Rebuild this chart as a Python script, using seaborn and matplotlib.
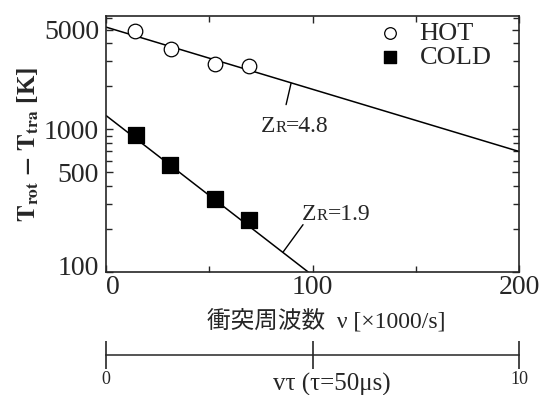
import numpy as np
import matplotlib
matplotlib.use('Agg')
import matplotlib.pyplot as plt
import matplotlib.transforms as mtrans
from matplotlib.ticker import LogLocator, NullFormatter, FixedLocator
from matplotlib.offsetbox import TextArea, HPacker, AnnotationBbox
import seaborn as sns

# measured points (collision frequency in 1000/s, temperature difference in K)
hot_nu = [14, 31.5, 53, 69]
hot_T = [4870, 3650, 2870, 2780]
cold_nu = [14.5, 31, 53, 69]
cold_T = [910, 560, 325, 233]

# fitted lines
hot_fit_nu = [0, 200]
hot_fit_T = [5200, 700]
cold_fit_nu = [0, 98]
cold_fit_T = [1250, 100]

y_ticks = [100, 500, 1000, 5000]
x_ticks = [0, 100, 200]
vt_ticks = [0, 5, 10]
vt_labels = ['0', '', '10']

sns.set_style('ticks')
plt.rcParams['font.family'] = ['Liberation Serif', 'Noto Sans CJK JP']
plt.rcParams['mathtext.fontset'] = 'stix'

fig = plt.figure(figsize=(5.42, 3.95), dpi=100)
ax = fig.add_axes([0.1956, 0.311, 0.762, 0.648])

sns.lineplot(x=hot_fit_nu, y=hot_fit_T, ax=ax, color='black', lw=1.1)
sns.lineplot(x=cold_fit_nu, y=cold_fit_T, ax=ax, color='black', lw=1.1)
sns.scatterplot(x=hot_nu, y=hot_T, ax=ax, marker='o', s=110, facecolor='white',
                edgecolor='black', linewidth=0.9, zorder=3)
sns.scatterplot(x=cold_nu, y=cold_T, ax=ax, marker='s', s=130, color='black',
                edgecolor='black', zorder=3)

ax.set_yscale('log')
ax.set_xlim(0, 200)
ax.set_ylim(100, 6200)
ax.set_xticks(x_ticks)
ax.set_xticklabels([str(v) for v in x_ticks], fontsize=20)
ax.xaxis.set_minor_locator(FixedLocator([50, 150]))
ax.set_yticks(y_ticks)
ax.set_yticklabels([str(v) for v in y_ticks], fontsize=20)
ax.yaxis.set_minor_locator(LogLocator(base=10, subs=np.arange(2, 10)))
ax.yaxis.set_minor_formatter(NullFormatter())
ax.tick_params(which='both', direction='in', top=True, right=True, width=1)
ax.tick_params(which='major', length=5)
ax.tick_params(axis='y', which='major', pad=5)
ax.tick_params(axis='x', which='major', pad=2)
ax.tick_params(which='minor', length=4)
for s in ax.spines.values():
    s.set_linewidth(1.2)
# nudge the first x label right and the lowest y label up, as in the original
ax.get_xticklabels()[0].set_horizontalalignment('left')
lab100 = ax.get_yticklabels()[0]
lab100.set_transform(lab100.get_transform() +
                     mtrans.ScaledTranslation(0, 5 / 72, fig.dpi_scale_trans))

ax.set_ylabel(r'$\mathbf{T_{rot}}$ $\mathbf{-}$ $\mathbf{T_{tra}}$ [K]', fontsize=18,
              fontweight='bold', labelpad=2)

# legend
h1 = ax.scatter([], [], marker='o', s=70, facecolor='white', edgecolor='black', linewidth=0.9)
h2 = ax.scatter([], [], marker='s', s=80, color='black')
ax.legend([h1, h2], ['HOT', 'COLD'], loc='upper right', frameon=False, fontsize=19,
          handletextpad=0.1, labelspacing=0.0, borderaxespad=0.1,
          bbox_to_anchor=(0.965, 1.03))


# Z_R annotations: big Z, small R on the same baseline
def zr_label(x, y, value):
    parts = [TextArea('Z', textprops=dict(fontsize=17, family='Liberation Serif')),
             TextArea('R', textprops=dict(fontsize=12, family='Liberation Serif')),
             TextArea('=' + value, textprops=dict(fontsize=17, family='Liberation Serif'))]
    box = HPacker(children=parts, align='baseline', pad=0, sep=0)
    ab = AnnotationBbox(box, (x, y), xycoords='data', box_alignment=(0, 0),
                        frameon=False, pad=0)
    ax.add_artist(ab)


zr_label(75, 880, '4.8')
ax.plot([87.2, 89.6], [1490, 2100], color='black', lw=1)
zr_label(95, 215, '1.9')
ax.plot([85.7, 95.4], [138, 215], color='black', lw=1)

fig.text(326 / 542, 1 - 321 / 395, '衝突周波数  ν [×1000/s]', fontsize=17,
         ha='center', va='center')

# second scale: nu * tau
ax2 = fig.add_axes([0.1956, 1 - 355 / 395, 0.762, 0.0001])
ax2.set_xlim(0, 10)
ax2.set_xticks(vt_ticks)
ax2.set_xticklabels([])
ax2.set_yticks([])
for k in ['top', 'left', 'right']:
    ax2.spines[k].set_visible(False)
ax2.spines['bottom'].set_linewidth(1.1)
ax2.tick_params(axis='x', direction='inout', length=20, width=1.2)
ax2.patch.set_alpha(0)
trans = mtrans.blended_transform_factory(ax2.transData, fig.transFigure)
for v, lab in zip(vt_ticks, vt_labels):
    ax2.text(v, 1 - 379 / 395, lab, transform=trans, fontsize=13,
             ha='center', va='center')
fig.text(332 / 542, 1 - 384 / 395, 'vτ (τ=50μs)', fontsize=18, ha='center', va='center')

fig.savefig('out.png', dpi=100)
